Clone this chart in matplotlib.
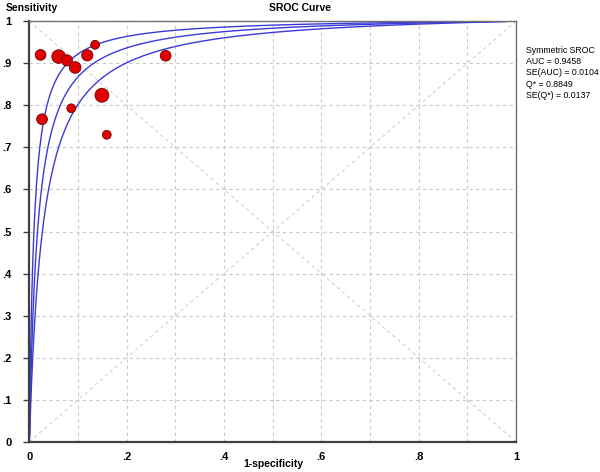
import numpy as np
import matplotlib.pyplot as plt

# study points: 1-specificity, sensitivity, marker size (study weight)
fpr = [0.023, 0.060, 0.077, 0.094, 0.119, 0.135, 0.280, 0.149, 0.086, 0.026, 0.159]
tpr = [0.920, 0.916, 0.907, 0.890, 0.919, 0.944, 0.918, 0.824, 0.793, 0.767, 0.730]
weight = [60, 95, 65, 70, 65, 40, 60, 100, 40, 60, 40]

# symmetric SROC summary
auc = 0.9458
se_auc = 0.0104
q_star = 0.8849
se_q = 0.0137


def logit(p):
    return np.log(p / (1 - p))


# Moses-Littenberg symmetric curve through Q*
def sroc(x, q):
    a = 2 * logit(q)
    return 1 / (1 + np.exp(-(a + logit(x))))


plt.rcParams['font.family'] = ['Liberation Sans', 'DejaVu Sans']

fig = plt.figure(figsize=(6, 4.72), dpi=100)
ax = fig.add_axes([0.049, 0.064, 0.811, 0.891])

ax.set_xlim(0, 1)
ax.set_ylim(0, 1)

ticks = np.arange(0, 1.01, 0.1)
ax.set_xticks(ticks)
ax.set_yticks(ticks)
ax.set_xticklabels(['0', '', '.2', '', '.4', '', '.6', '', '.8', '', '1'],
                   fontsize=8, fontweight='bold')
ax.set_yticklabels(['0', '.1', '.2', '.3', '.4', '.5', '.6', '.7', '.8', '.9', '1'],
                   fontsize=8, fontweight='bold')
ax.tick_params(axis='y', length=4, width=1, color='#404040', pad=9)
ax.tick_params(axis='x', length=0, pad=7)
ax.grid(True, color='#c8c8c8', linestyle=(0, (3, 3)), linewidth=0.8)

# chance / Q* diagonals
ax.plot([0, 1], [0, 1], color='#d0d0d0', linestyle=(0, (3, 3)), linewidth=0.8)
ax.plot([0, 1], [1, 0], color='#d0d0d0', linestyle=(0, (3, 3)), linewidth=0.8)

xs = np.linspace(0.0002, 0.98, 600)
for q in [q_star + 1.96 * se_q, q_star, q_star - 1.96 * se_q]:
    ax.plot(xs, sroc(xs, q), color='#3a3ad8', linewidth=1.0)

ax.scatter(fpr, tpr, s=weight, color='#e00000', edgecolor='#700000',
           linewidth=0.6, zorder=5, clip_on=False)

for side in ['left', 'bottom']:
    ax.spines[side].set_color('#404040')
    ax.spines[side].set_linewidth(1.6)
for side in ['top', 'right']:
    ax.spines[side].set_color('#707070')
    ax.spines[side].set_linewidth(1.0)

fig.text(0.01, 0.982, 'Sensitivity', fontsize=7.5, fontweight='bold', va='center')
fig.text(0.50, 0.982, 'SROC Curve', fontsize=7.5, fontweight='bold', va='center', ha='center')
fig.text(0.455, 0.018, '1-specificity', fontsize=7.5, fontweight='bold', va='center', ha='center')

stats = ['Symmetric SROC',
         f'AUC = {auc:.4f}',
         f'SE(AUC) = {se_auc:.4f}',
         f'Q* = {q_star:.4f}',
         f'SE(Q*) = {se_q:.4f}']
fig.text(0.876, 0.902, '\n'.join(stats), fontsize=6.3, va='top', ha='left',
         linespacing=1.3)

fig.savefig('out.png', dpi=100)
